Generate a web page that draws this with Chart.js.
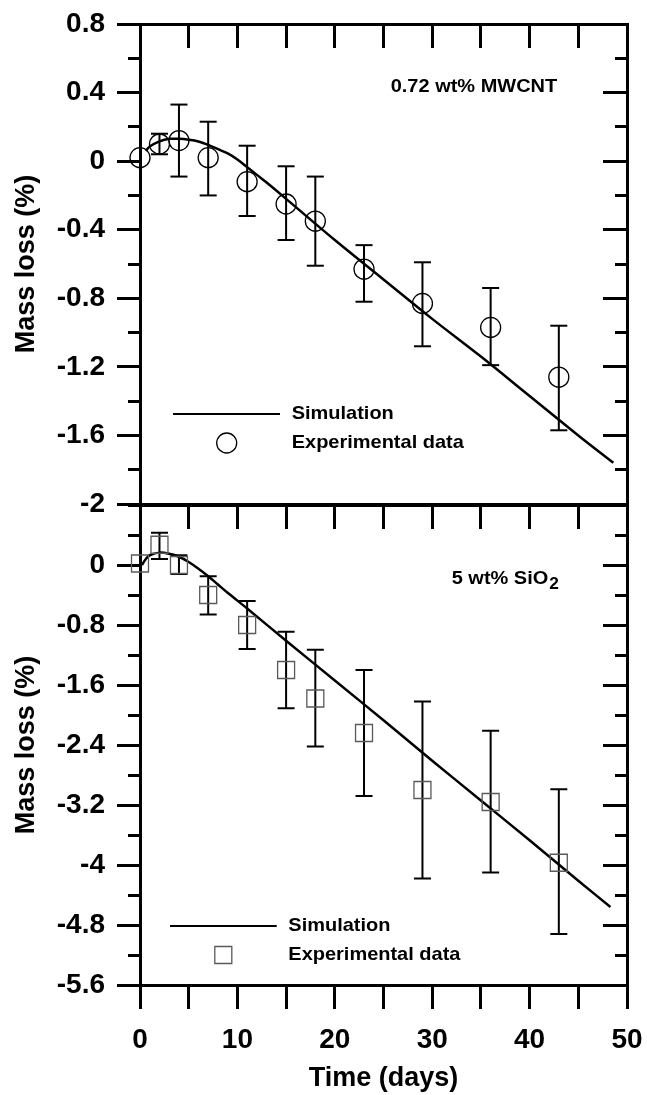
<!DOCTYPE html>
<html><head><meta charset="utf-8">
<script src="https://cdn.jsdelivr.net/npm/chart.js@4.4.1/dist/chart.umd.min.js"></script>
<style>
html,body{margin:0;padding:0;background:#fff;}
#wrap{position:relative;width:647px;height:1095px;background:#fff;}
canvas{position:absolute;left:0;top:0;}
</style></head><body>
<div id="wrap"><canvas id="c1" width="647" height="1095"></canvas><canvas id="c2" width="647" height="1095"></canvas></div>
<script>
// ---- data ----
const days = [0, 2, 4, 7, 11, 15, 18, 23, 29, 36, 43];

const cntMass    = [0.02, 0.10, 0.12, 0.02, -0.12, -0.25, -0.35, -0.63, -0.83, -0.97, -1.26];
const cntErrHigh = [null, 0.16, 0.33, 0.23, 0.09, -0.03, -0.09, -0.49, -0.59, -0.74, -0.96];
const cntErrLow  = [null, 0.04, -0.09, -0.20, -0.32, -0.46, -0.61, -0.82, -1.08, -1.19, -1.57];
const cntSimDays = [0.6, 1, 2, 3, 4, 5, 6, 7, 8, 9, 10, 11, 12, 13, 15, 20, 25, 30, 35, 40, 45, 48.6];
const cntSim     = [0.06, 0.085, 0.115, 0.13, 0.13, 0.125, 0.115, 0.095, 0.07, 0.045, 0.01, -0.035, -0.08, -0.125, -0.22, -0.46, -0.69, -0.92, -1.14, -1.37, -1.60, -1.76];

const sioMass    = [0.02, 0.27, 0.0, -0.40, -0.80, -1.40, -1.78, -2.24, -3.00, -3.16, -3.97];
const sioErrHigh = [null, 0.43, 0.13, -0.15, -0.48, -0.89, -1.13, -1.40, -1.82, -2.21, -2.99];
const sioErrLow  = [null, 0.08, -0.12, -0.66, -1.12, -1.91, -2.42, -3.08, -4.18, -4.10, -4.92];
const sioSimDays = [0.2, 0.6, 1, 2, 3, 4, 5, 6, 7, 8, 9, 11, 15, 20, 25, 30, 35, 40, 45, 48.3];
const sioSim     = [0.0, 0.08, 0.13, 0.165, 0.15, 0.11, 0.04, -0.05, -0.15, -0.26, -0.37, -0.58, -1.01, -1.54, -2.07, -2.61, -3.14, -3.67, -4.21, -4.56];

const xTickLabels   = [0, 10, 20, 30, 40, 50];
const cntYTickVals  = [-2, -1.6, -1.2, -0.8, -0.4, 0, 0.4, 0.8];
const sioYTickVals  = [-5.6, -4.8, -4, -3.2, -2.4, -1.6, -0.8, 0];

const FONT = "'Liberation Sans', Arial, Helvetica, sans-serif";
const BLACK = '#000';

function fmt(v) { const r = Math.round(v * 10) / 10; return String(r === 0 ? 0 : r); }

function errorBarData(xs, lo, hi) {
  const out = [];
  xs.forEach((d, i) => {
    if (hi[i] === null || lo[i] === null) return;
    out.push({x: d, y: lo[i]}, {x: d, y: hi[i]}, {x: d, y: null});
  });
  return out;
}

function decorPlugin(spec) {
  return {
    id: 'decor',
    afterDraw(chart) {
      const ctx = chart.ctx, a = chart.chartArea;
      const sx = 1.08;
      function text(t, x, y, size) {
        ctx.save();
        ctx.font = 'bold ' + size + 'px ' + FONT;
        ctx.textBaseline = 'middle';
        ctx.textAlign = 'left';
        ctx.fillStyle = BLACK;
        ctx.translate(x, y);
        ctx.scale(sx, 1);
        ctx.fillText(t, 0, 0);
        const w = ctx.measureText(t).width * sx;
        ctx.restore();
        return w;
      }
      // annotation
      const nx = a.left + spec.noteDx, ny = a.top + spec.noteDy;
      const w = text(spec.note, nx, ny, 18.5);
      if (spec.noteSub) text(spec.noteSub, nx + w + 1, ny + 6, 16);
      // legend: simulation line
      const ly = a.bottom + spec.legLineDy;
      ctx.save();
      ctx.strokeStyle = BLACK;
      ctx.lineWidth = 2;
      ctx.beginPath();
      ctx.moveTo(a.left + spec.legLineX1, ly);
      ctx.lineTo(a.left + spec.legLineX2, ly);
      ctx.stroke();
      ctx.restore();
      text('Simulation', a.left + spec.legTextDx, ly, 18.5);
      // legend: marker
      const my = a.bottom + spec.legMarkDy, mx = a.left + spec.legMarkDx;
      ctx.save();
      ctx.strokeStyle = spec.markColor;
      ctx.lineWidth = 1.3;
      ctx.beginPath();
      if (spec.marker === 'circle') ctx.arc(mx, my, 10, 0, Math.PI * 2);
      else ctx.rect(mx - 8.5, my - 8.5, 17, 17);
      ctx.stroke();
      ctx.restore();
      text('Experimental data', a.left + spec.legTextDx, my, 18.5);
    }
  };
}

function makePanel(canvasId, o) {
  const tickFont = {family: FONT, size: 28, weight: 'bold'};
  const noPad = s => { s.paddingLeft = 0; s.paddingRight = 0; s.paddingTop = 0; s.paddingBottom = 0; };
  const scales = {
    x: {
      type: 'linear', axis: 'x', position: 'bottom', min: 0, max: 50, offset: false,
      ticks: o.isTop ? {display: false, stepSize: 5, autoSkip: false} : {
        display: true, stepSize: 5, autoSkip: false, maxRotation: 0, color: BLACK, font: tickFont, padding: 14,
        callback: v => xTickLabels.includes(v) ? String(v) : ''
      },
      grid: {display: true, offset: false, drawOnChartArea: false, drawTicks: !o.isTop, tickLength: 24, tickWidth: 3, tickColor: BLACK},
      border: {display: true, color: BLACK, width: 3},
      title: o.isTop ? {display: false} : {display: true, text: 'Time (days)', color: BLACK,
        font: {family: FONT, size: 27, weight: 'bold'}, padding: {top: 0, bottom: 0}},
      afterFit: s => { s.height = o.isTop ? 0 : 110; noPad(s); }
    },
    xTop: {
      type: 'linear', axis: 'x', position: 'top', min: 0, max: 50, offset: false,
      ticks: {display: false, stepSize: 5, autoSkip: false},
      grid: {display: true, offset: false, drawOnChartArea: false, tickLength: -24, tickWidth: 3, tickColor: BLACK},
      border: {display: true, color: BLACK, width: 3},
      afterFit: s => { s.height = o.isTop ? 24 : 0; noPad(s); }
    },
    y: {
      type: 'linear', axis: 'y', position: 'left', weight: 1, min: o.yMin, max: o.yMax,
      afterBuildTicks: s => { s.ticks = o.yTickVals.map(v => ({value: v})); },
      ticks: {display: true, autoSkip: false, color: BLACK, font: tickFont, padding: 12, callback: v => fmt(v)},
      grid: {display: true, drawOnChartArea: false, tickLength: 23, tickWidth: 3, tickColor: BLACK},
      border: {display: true, color: BLACK, width: 3},
      title: {display: true, text: 'Mass loss (%)', color: BLACK, font: {family: FONT, size: 27, weight: 'bold'}, padding: {top: 10, bottom: 0}},
      afterFit: s => { s.width = 140; noPad(s); }
    },
    yMinor: {
      type: 'linear', axis: 'y', position: 'left', weight: 0, min: o.yMin, max: o.yMax,
      ticks: {display: false, stepSize: o.yMinor, autoSkip: false},
      grid: {display: true, drawOnChartArea: false, tickLength: 12, tickWidth: 3, tickColor: BLACK},
      border: {display: true, color: BLACK, width: 3},
      afterFit: s => { s.width = 0; noPad(s); }
    },
    yRight: {
      type: 'linear', axis: 'y', position: 'right', weight: 0, min: o.yMin, max: o.yMax,
      ticks: {display: false, stepSize: o.yMajor, autoSkip: false},
      grid: {display: true, drawOnChartArea: false, tickLength: -24, tickWidth: 3, tickColor: BLACK},
      border: {display: true, color: BLACK, width: 3},
      afterFit: s => { s.width = 0; noPad(s); }
    },
    yRightMinor: {
      type: 'linear', axis: 'y', position: 'right', weight: 1, min: o.yMin, max: o.yMax,
      ticks: {display: false, stepSize: o.yMinor, autoSkip: false},
      grid: {display: true, drawOnChartArea: false, tickLength: -12, tickWidth: 3, tickColor: BLACK},
      border: {display: true, color: BLACK, width: 3},
      afterFit: s => { s.width = 0; noPad(s); }
    }
  };

  return new Chart(document.getElementById(canvasId), {
    type: 'scatter',
    data: {
      datasets: [
        {
          label: 'Experimental data',
          data: days.map((d, i) => ({x: d, y: o.mass[i]})),
          showLine: false,
          pointStyle: o.marker,
          pointRadius: o.marker === 'circle' ? 10 : 12,
          pointBorderWidth: 1.3,
          pointBorderColor: o.markColor,
          pointBackgroundColor: 'rgba(0,0,0,0)',
          clip: false,
          order: 0
        },
        {
          label: 'Simulation',
          data: o.simDays.map((d, i) => ({x: d, y: o.sim[i]})),
          showLine: true,
          borderColor: BLACK,
          borderWidth: 2.5,
          pointRadius: 0,
          tension: 0.35,
          clip: false,
          order: 1
        },
        {
          label: 'error',
          data: errorBarData(days, o.lo, o.hi),
          showLine: true,
          spanGaps: false,
          borderColor: BLACK,
          borderWidth: 2,
          pointStyle: 'line',
          pointRadius: 8.5,
          pointBorderWidth: 2,
          pointBorderColor: BLACK,
          clip: false,
          order: 2
        }
      ]
    },
    options: {
      responsive: false,
      animation: false,
      devicePixelRatio: 1,
      events: [],
      layout: {padding: o.padding},
      plugins: {legend: {display: false}, tooltip: {enabled: false}},
      scales
    },
    plugins: [decorPlugin(o.decor)]
  });
}

makePanel('c1', {
  isTop: true, yMin: -2, yMax: 0.8, yMajor: 0.4, yMinor: 0.2, yTickVals: cntYTickVals,
  mass: cntMass, lo: cntErrLow, hi: cntErrHigh, simDays: cntSimDays, sim: cntSim,
  marker: 'circle', markColor: BLACK,
  padding: {left: 0, right: 20, top: 0, bottom: 591},
  decor: {note: '0.72 wt% MWCNT', noteDx: 250.7, noteDy: 63,
    legLineX1: 33, legLineX2: 140, legLineDy: -90, legTextDx: 151.7,
    legMarkDx: 86.7, legMarkDy: -61, marker: 'circle', markColor: BLACK}
});

makePanel('c2', {
  isTop: false, yMin: -5.6, yMax: 0.8, yMajor: 0.8, yMinor: 0.4, yTickVals: sioYTickVals,
  mass: sioMass, lo: sioErrLow, hi: sioErrHigh, simDays: sioSimDays, sim: sioSim,
  marker: 'rect', markColor: '#5a5a5a',
  padding: {left: 0, right: 20, top: 505, bottom: 0},
  decor: {note: '5 wt% SiO', noteSub: '2', noteDx: 311.7, noteDy: 74,
    legLineX1: 30, legLineX2: 136.7, legLineDy: -59, legTextDx: 148.3,
    legMarkDx: 83.3, legMarkDy: -30, marker: 'rect', markColor: '#5a5a5a'}
});
</script>
</body></html>
